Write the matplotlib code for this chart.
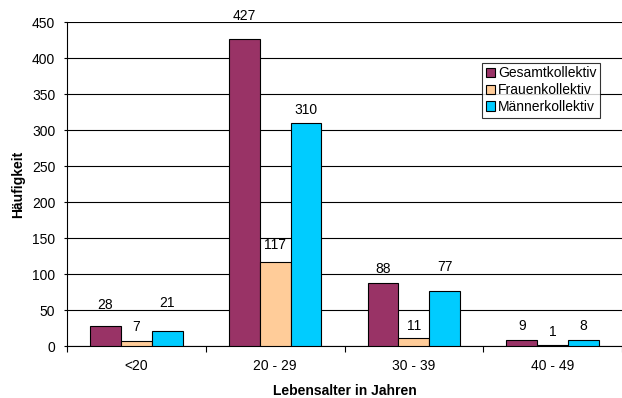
import numpy as np
import matplotlib
matplotlib.use("Agg")
import matplotlib.pyplot as plt

plt.rcParams['font.family'] = ['Liberation Sans', 'DejaVu Sans']

categories = ["<20", "20 - 29", "30 - 39", "40 - 49"]
gesamt = [28, 427, 88, 9]
frauen = [7, 117, 11, 1]
maenner = [21, 310, 77, 8]
series = [("Gesamtkollektiv", gesamt, "#993366"),
          ("Frauenkollektiv", frauen, "#FFCC99"),
          ("Männerkollektiv", maenner, "#00CCFF")]

# label distance above bar top, in points, per series
label_gap = [[15, 16.5, 9.5, 9.5],
             [10, 12, 8.5, 9.5],
             [20, 9.5, 17, 10]]

fig = plt.figure(figsize=(6.22, 3.98), dpi=100)
ax = fig.add_axes([67 / 622, 1 - 346 / 398, 555 / 622, 324 / 398])

x = np.arange(len(categories))
w = 1 / 4.5
for i, (name, vals, col) in enumerate(series):
    pos = x + (i - 1) * w
    ax.bar(pos, vals, width=w, color=col, edgecolor="black", linewidth=0.8,
           label=name, zorder=3)
    for p, v, g in zip(pos, vals, label_gap[i]):
        ax.annotate(str(v), (p, v), xytext=(0, g), textcoords="offset points",
                    ha="center", va="center", fontsize=10)

ax.set_xlim(-0.5, len(categories) - 0.5)
ax.set_ylim(0, 450)
ax.set_yticks(np.arange(0, 451, 50))
ax.set_xticks(x)
ax.set_xticklabels(categories, fontsize=10)
ax.set_xticks(np.arange(-0.5, len(categories), 1), minor=True)
ax.tick_params(axis="x", which="major", length=0, pad=9)
ax.tick_params(axis="x", which="minor", length=4, width=0.8, direction="out")
ax.tick_params(axis="y", length=2.5, width=0.8, direction="out", labelsize=10, pad=6)
ax.grid(axis="y", color="black", linewidth=0.8, zorder=0)
for s in ["top", "right"]:
    ax.spines[s].set_visible(False)
ax.spines["left"].set_linewidth(0.8)
ax.spines["bottom"].set_linewidth(0.8)

ax.set_ylabel("Häufigkeit", fontsize=10, fontweight="bold", labelpad=5)
ax.set_xlabel("Lebensalter in Jahren", fontsize=10, fontweight="bold", labelpad=8)

leg = ax.legend(loc="upper right", bbox_to_anchor=(600 / 622, 1 - 63 / 398),
                bbox_transform=fig.transFigure, fontsize=10, frameon=True,
                fancybox=False, handlelength=0.7, handleheight=0.7,
                handletextpad=0.2, borderpad=0.25, labelspacing=0.2,
                borderaxespad=0)
leg.get_frame().set_edgecolor("black")
leg.get_frame().set_linewidth(0.8)

fig.savefig("out.png", dpi=100)
